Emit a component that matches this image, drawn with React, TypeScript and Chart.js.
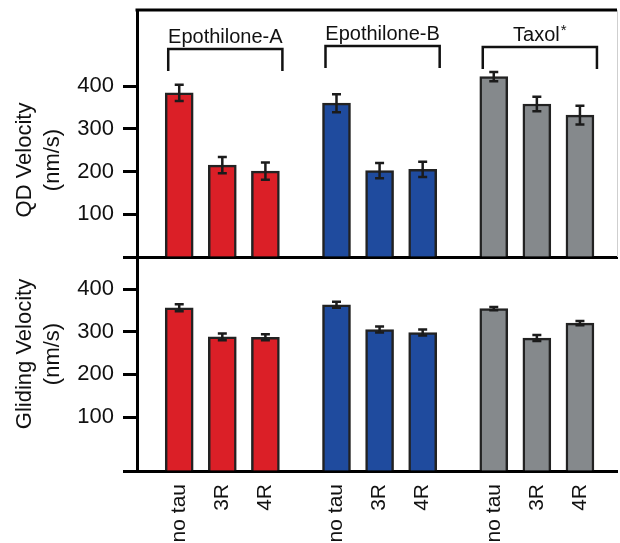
import React, { useEffect, useRef } from 'react';
import { Chart, registerables } from 'chart.js';

Chart.register(...registerables);

const categories = ['no tau', '3R', '4R'];
const groups = ['Epothilone-A', 'Epothilone-B', 'Taxol'];
const groupColors = ['#db1f27', '#1f4b9e', '#85898c'];
const qdVelocity = [384, 215, 201, 360, 202, 205, 422, 358, 332];
const qdError = [19, 19, 20, 21, 18, 18, 11, 17, 22];
const glidingVelocity = [356, 288, 287, 363, 305, 298, 354, 285, 320];
const glidingError = [8, 8, 7, 7, 7, 7, 4, 7, 5];
const yTickValues = [100, 200, 300, 400];
const GROUP_STEP = 3.65;

const positions = groups.flatMap((_, gi) => categories.map((__, ci) => gi * GROUP_STEP + ci));
const barColors = groups.flatMap((_, gi) => categories.map(() => groupColors[gi]));
const tickLabels = groups.flatMap(() => categories);

const FONT = "'Liberation Sans', Arial, Helvetica, sans-serif";

const overlayPlugin = {
  id: 'overlay',
  afterDatasetsDraw(chart: any, _args: any, opts: any) {
    const { ctx, chartArea } = chart;
    const xs = chart.scales.x;
    const ys = chart.scales.y;
    ctx.save();
    ctx.strokeStyle = '#1b1b1b';
    ctx.lineWidth = 2.5;
    opts.values.forEach((v: number, i: number) => {
      const e = opts.errors[i];
      const x = xs.getPixelForValue(positions[i]);
      const yTop = ys.getPixelForValue(v + e);
      const yBot = ys.getPixelForValue(v - e);
      ctx.beginPath();
      ctx.moveTo(x, yTop);
      ctx.lineTo(x, yBot);
      ctx.moveTo(x - 4.5, yTop);
      ctx.lineTo(x + 4.5, yTop);
      ctx.moveTo(x - 4.5, yBot);
      ctx.lineTo(x + 4.5, yBot);
      ctx.stroke();
    });
    if (opts.brackets) {
      ctx.strokeStyle = '#000';
      ctx.lineWidth = 3;
      ctx.beginPath();
      ctx.moveTo(chartArea.left - 1.5, chartArea.top);
      ctx.lineTo(chartArea.right, chartArea.top);
      ctx.stroke();
      ctx.strokeStyle = '#cfcfcf';
      ctx.lineWidth = 1;
      ctx.beginPath();
      ctx.moveTo(chartArea.right + 0.5, chartArea.top);
      ctx.lineTo(chartArea.right + 0.5, chartArea.bottom);
      ctx.stroke();
      const lift = [0, -3, -2];
      groups.forEach((g, gi) => {
        const dy = lift[gi];
        const x1 = xs.getPixelForValue(positions[gi * 3]) - 11;
        const x2 = xs.getPixelForValue(positions[gi * 3 + 2]) + 17;
        ctx.strokeStyle = '#111';
        ctx.lineWidth = 2.5;
        ctx.beginPath();
        ctx.moveTo(x1, 71 + dy);
        ctx.lineTo(x1, 49 + dy);
        ctx.lineTo(x2, 49 + dy);
        ctx.lineTo(x2, 71 + dy);
        ctx.stroke();
        ctx.fillStyle = '#111';
        ctx.textBaseline = 'alphabetic';
        const cx = (x1 + x2) / 2;
        if (gi === 2) {
          ctx.font = `20px ${FONT}`;
          const w1 = ctx.measureText(g).width;
          ctx.font = `15px ${FONT}`;
          const w2 = ctx.measureText('*').width;
          const start = cx - (w1 + w2 + 1) / 2;
          ctx.font = `20px ${FONT}`;
          ctx.textAlign = 'left';
          ctx.fillText(g, start, 43 + dy);
          ctx.font = `15px ${FONT}`;
          ctx.fillText('*', start + w1 + 1, 37 + dy);
        } else {
          ctx.font = `20px ${FONT}`;
          ctx.textAlign = 'center';
          ctx.fillText(g, cx, 43 + dy);
        }
      });
    }
    ctx.restore();
  },
  afterDraw(chart: any, _args: any, opts: any) {
    const { ctx } = chart;
    ctx.save();
    ctx.fillStyle = '#111';
    ctx.font = `22px ${FONT}`;
    ctx.textAlign = 'center';
    ctx.textBaseline = 'middle';
    opts.titles.forEach((t: string, i: number) => {
      ctx.save();
      ctx.translate(opts.titleX[i], opts.titleY);
      ctx.rotate(-Math.PI / 2);
      ctx.fillText(t, 0, 0);
      ctx.restore();
    });
    ctx.restore();
  },
};

function buildConfig(kind: 'top' | 'bottom'): any {
  const isTop = kind === 'top';
  const values = isTop ? qdVelocity : glidingVelocity;
  const errors = isTop ? qdError : glidingError;
  const yMin = isTop ? 0 : -26.5;
  const yMax = isTop ? 578 : 475;
  return {
    type: 'bar',
    data: {
      datasets: [
        {
          data: positions.map((x, i) => ({ x, y: values[i] })),
          backgroundColor: barColors,
          borderColor: '#222',
          borderWidth: 2.5,
          barThickness: 28,
          base: yMin,
        },
      ],
    },
    plugins: [overlayPlugin],
    options: {
      responsive: false,
      animation: false,
      layout: { padding: { top: isTop ? 10 : 7, right: 3, left: 0, bottom: 0 } },
      plugins: {
        legend: { display: false },
        tooltip: { enabled: false },
        overlay: {
          values,
          errors,
          brackets: isTop,
          titles: isTop ? ['QD Velocity', '(nm/s)'] : ['Gliding Velocity', '(nm/s)'],
          titleX: [25, 53],
          titleY: isTop ? 160 : 104,
        },
      },
      scales: {
        x: {
          type: 'linear',
          offset: false,
          min: -0.98,
          max: 10.16,
          grid: { display: false, drawTicks: false, offset: false },
          border: { display: true, color: '#000', width: 3 },
          afterBuildTicks: (scale: any) => {
            scale.ticks = positions.map((v) => ({ value: v }));
          },
          afterFit: (scale: any) => {
            scale.height = isTop ? 3 : 72;
            scale.paddingLeft = 0;
            scale.paddingRight = 0;
          },
          ticks: {
            display: !isTop,
            autoSkip: false,
            minRotation: 90,
            maxRotation: 90,
            padding: 13,
            color: '#111',
            font: { family: FONT, size: 21 },
            callback: (_v: any, i: number) => tickLabels[i],
          },
        },
        y: {
          min: yMin,
          max: yMax,
          grid: {
            display: true,
            drawOnChartArea: false,
            drawTicks: true,
            tickLength: 14,
            tickWidth: 3,
            tickColor: '#000',
          },
          border: { display: true, color: '#000', width: 3 },
          afterBuildTicks: (scale: any) => {
            scale.ticks = [yMin, ...yTickValues].map((v) => ({ value: v }));
          },
          afterFit: (scale: any) => {
            scale.width = 137;
            scale.paddingTop = 0;
            scale.paddingBottom = 0;
          },
          ticks: {
            padding: 9,
            color: '#111',
            font: { family: FONT, size: 22 },
            callback: (v: any) => (v === yMin ? '' : String(v)),
          },
        },
      },
    },
  };
}

export default function App() {
  const topRef = useRef<HTMLCanvasElement>(null);
  const bottomRef = useRef<HTMLCanvasElement>(null);

  useEffect(() => {
    const top = new Chart(topRef.current as HTMLCanvasElement, buildConfig('top'));
    const bottom = new Chart(bottomRef.current as HTMLCanvasElement, buildConfig('bottom'));
    return () => {
      top.destroy();
      bottom.destroy();
    };
  }, []);

  return (
    <div style={{ position: 'absolute', left: 0, top: 0, width: 620, height: 543, background: '#fff', overflow: 'hidden' }}>
      <canvas ref={topRef} width={620} height={260} style={{ position: 'absolute', left: 0, top: 0, width: 620, height: 260 }} />
      <canvas ref={bottomRef} width={620} height={293} style={{ position: 'absolute', left: 0, top: 250, width: 620, height: 293 }} />
    </div>
  );
}
